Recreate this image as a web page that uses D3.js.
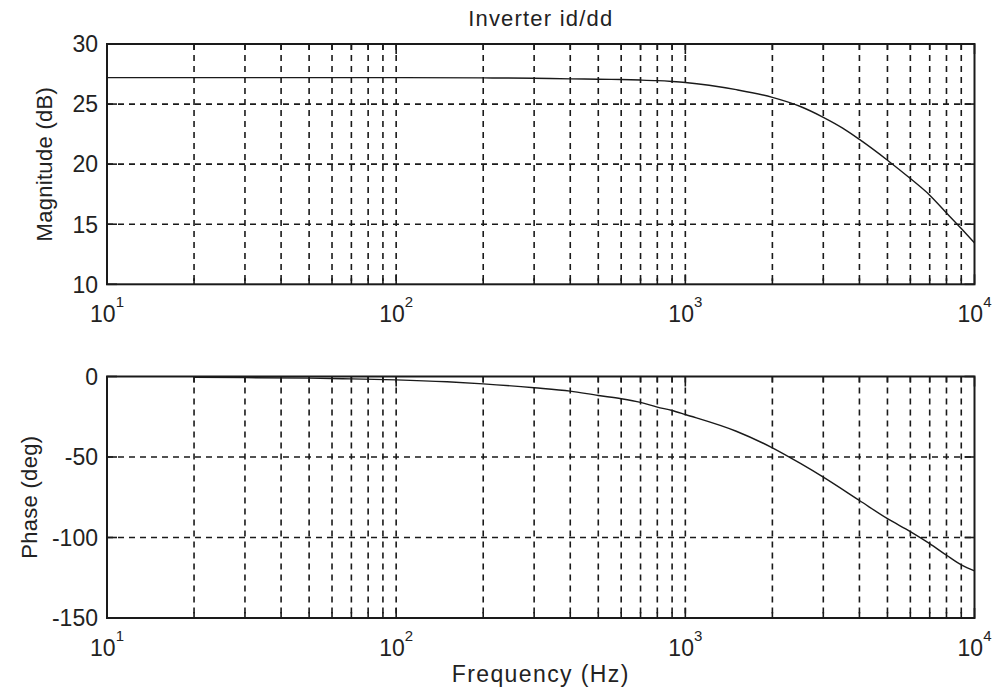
<!DOCTYPE html>
<html>
<head>
<meta charset="utf-8">
<script src="https://cdn.jsdelivr.net/npm/d3@7/dist/d3.min.js"></script>
<style>
  html, body { margin: 0; padding: 0; background: #fff; }
  svg { display: block; }
  text { font-family: "Liberation Sans", Arial, sans-serif; fill: #222; }
</style>
</head>
<body>
<svg id="chart" width="994" height="690"></svg>
<script>
// Bode plot of the inverter id/dd transfer function
const title = "Inverter id/dd";
const xLabel = "Frequency (Hz)";
const magLabel = "Magnitude (dB)";
const phaseLabel = "Phase (deg)";

const decadeExponents = [1, 2, 3, 4];
const magTicks = [10, 15, 20, 25, 30];
const phaseTicks = [-150, -100, -50, 0];

const magFreq = [10, 20, 50, 100, 200, 300, 400, 500, 600, 700, 800, 900, 1000,
                 1500, 2000, 2500, 3000, 3500, 4000, 5000, 6000, 7000, 8000, 9000, 10000];
const magDb   = [27.2, 27.2, 27.2, 27.2, 27.18, 27.15, 27.1, 27.07, 27.04, 27.0, 26.95, 26.88, 26.8,
                 26.2, 25.56, 24.8, 23.9, 23.0, 22.06, 20.33, 18.8, 17.42, 15.94, 14.64, 13.44];

const phaseFreq = [20, 30, 50, 70, 100, 150, 200, 300, 400, 500, 600, 700, 800, 900, 1000,
                   1500, 2000, 2500, 3000, 4000, 5000, 6000, 7000, 8000, 9000, 10000];
const phaseDeg  = [-0.5, -0.7, -1.0, -1.5, -2.1, -3.3, -4.6, -7.0, -9.1, -11.8, -13.8, -16.1, -19.0, -21.1, -23.6,
                   -34.0, -44.3, -54.0, -62.5, -77.0, -88.3, -96.3, -103.8, -111.0, -117.0, -120.7];

const svg = d3.select("#chart");
const ink = "#1a1a1a";

const left = 107, right = 974.5;
const x = d3.scaleLog().domain([10, 10000]).range([left, right]);

// every 1..9 multiple inside the frequency range
const logTicks = x.ticks();

function panel(cfg) {
  const y = d3.scaleLinear().domain(cfg.domain).range([cfg.bottom, cfg.top]);
  const g = svg.append("g");

  // dashed grid
  const gridDash = "6,5";
  g.selectAll("line.vgrid")
    .data(logTicks.filter(f => f > 10 && f < 10000))
    .join("line")
    .attr("x1", d => x(d)).attr("x2", d => x(d))
    .attr("y1", cfg.top).attr("y2", cfg.bottom)
    .attr("stroke", ink).attr("stroke-width", 1.6)
    .attr("stroke-dasharray", gridDash);
  g.selectAll("line.hgrid")
    .data(cfg.ticks.filter(v => v !== cfg.domain[0] && v !== cfg.domain[1]))
    .join("line")
    .attr("x1", left).attr("x2", right)
    .attr("y1", d => y(d)).attr("y2", d => y(d))
    .attr("stroke", ink).attr("stroke-width", 1.6)
    .attr("stroke-dasharray", gridDash);

  // inward tick marks on all four sides
  const ticksG = g.append("g").attr("stroke", ink).attr("stroke-width", 1.6);
  logTicks.forEach(f => {
    const major = Math.abs(Math.log10(f) - Math.round(Math.log10(f))) < 1e-9;
    const len = major ? 10 : 6;
    ticksG.append("line").attr("x1", x(f)).attr("x2", x(f))
      .attr("y1", cfg.bottom).attr("y2", cfg.bottom - len);
    ticksG.append("line").attr("x1", x(f)).attr("x2", x(f))
      .attr("y1", cfg.top).attr("y2", cfg.top + len);
  });
  cfg.ticks.forEach(v => {
    ticksG.append("line").attr("x1", left).attr("x2", left + 10)
      .attr("y1", y(v)).attr("y2", y(v));
    ticksG.append("line").attr("x1", right).attr("x2", right - 10)
      .attr("y1", y(v)).attr("y2", y(v));
  });

  // frame
  g.append("rect")
    .attr("x", left).attr("y", cfg.top)
    .attr("width", right - left).attr("height", cfg.bottom - cfg.top)
    .attr("fill", "none").attr("stroke", ink).attr("stroke-width", 2);

  // curve
  const line = d3.line()
    .x((d, i) => x(cfg.freq[i]))
    .y(d => y(d))
    .curve(d3.curveMonotoneX);
  g.append("path")
    .datum(cfg.values)
    .attr("d", line)
    .attr("fill", "none").attr("stroke", ink).attr("stroke-width", 1.4);

  // y tick labels
  g.selectAll("text.ylab")
    .data(cfg.ticks)
    .join("text")
    .attr("x", left - 9).attr("y", d => y(d))
    .attr("dy", "0.36em")
    .attr("text-anchor", "end")
    .attr("font-size", 23)
    .text(d => d);

  // x tick labels 10^n
  decadeExponents.forEach(e => {
    const t = g.append("text")
      .attr("x", x(Math.pow(10, e)))
      .attr("y", cfg.bottom + 37.5)
      .attr("text-anchor", "middle")
      .attr("font-size", 23);
    t.append("tspan").text("10");
    t.append("tspan").attr("dy", -15).attr("font-size", 15).text(e);
  });

  // y axis title
  svg.append("text")
    .attr("transform", `translate(${cfg.labelX},${(cfg.top + cfg.bottom) / 2}) rotate(-90)`)
    .attr("text-anchor", "middle")
    .attr("font-size", 22)
    .attr("letter-spacing", 0.3)
    .text(cfg.label);

  return y;
}

panel({
  top: 44, bottom: 284.3, domain: [10, 30], ticks: magTicks,
  freq: magFreq, values: magDb, label: magLabel, labelX: 52
});

panel({
  top: 376.5, bottom: 618, domain: [-150, 0], ticks: phaseTicks,
  freq: phaseFreq, values: phaseDeg, label: phaseLabel, labelX: 37
});

svg.append("text")
  .attr("x", (left + right) / 2).attr("y", 26)
  .attr("text-anchor", "middle")
  .attr("font-size", 22)
  .attr("letter-spacing", 1.2)
  .text(title);

svg.append("text")
  .attr("x", (left + right) / 2).attr("y", 682)
  .attr("text-anchor", "middle")
  .attr("font-size", 23)
  .attr("letter-spacing", 1.4)
  .text(xLabel);
</script>
</body>
</html>
